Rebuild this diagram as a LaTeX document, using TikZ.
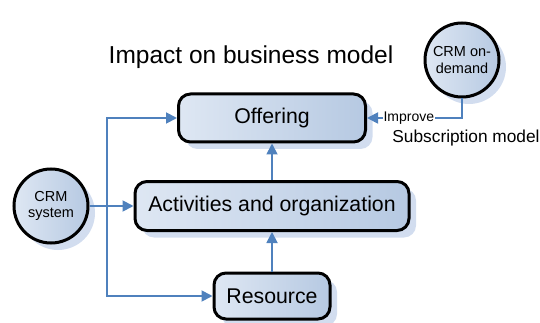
\documentclass[tikz,border=0pt]{standalone}
\usepackage{fontspec}
\setmainfont{Liberation Sans}
\usetikzlibrary{shadows,arrows.meta}

\definecolor{linkblue}{RGB}{79,129,189}
\definecolor{filllight}{RGB}{222,231,243}
\definecolor{filldark}{RGB}{182,201,226}
\definecolor{shadowblue}{RGB}{210,221,239}

\begin{document}
\begin{tikzpicture}[x=1pt,y=1pt,yscale=-1,
  boxed/.style={draw=black, line width=3pt, rounded corners=12pt,
    left color=filllight, right color=filldark,
    drop shadow={shadow xshift=7pt, shadow yshift=-7pt, fill=shadowblue, opacity=1},
    inner sep=0pt, font=\fontsize{21.3}{24}\selectfont},
  disc/.style={circle, draw=black, line width=3pt, minimum size=74pt,
    left color=filllight, right color=filldark,
    drop shadow={shadow xshift=7pt, shadow yshift=-7pt, fill=shadowblue, opacity=1},
    inner sep=0pt, align=center, font=\fontsize{14.5}{16.5}\selectfont},
  conn/.style={draw=linkblue, line width=1.8pt, -{Triangle[length=11pt,width=11pt]}}]

\useasboundingbox (0,0) rectangle (540,323);

% boxes
\node[boxed, minimum width=187pt, minimum height=48pt] (offer) at (272,118) {Offering};
\node[boxed, minimum width=274pt, minimum height=49pt] (act) at (272,206) {Activities and organization};
\node[boxed, minimum width=116pt, minimum height=46pt] (res) at (272,296) {Resource};

% circles
\node[disc] (sys) at (51,206) {CRM\\system};
\node[disc] (dem) at (462,60) {CRM on-\\demand};

% texts
\node[font=\fontsize{24.5}{28}\selectfont] (title) at (251,57) {Impact on business model};
\node[font=\fontsize{17.3}{19}\selectfont] (sub) at (466,138) {Subscription model};

\coordinate (trunk) at (107,206);

% connectors
\draw[conn] (sys.east) -- (act.west);
\draw[conn] (trunk) |- (offer.west);
\draw[conn] (trunk) |- (res.west);
\draw[conn] (res.north) -- (act.south);
\draw[conn] (act.north) -- (offer.south);
\draw[conn] (dem.south) |- node[pos=0.78, fill=white, inner sep=0.6pt,
  font=\fontsize{14}{15}\selectfont, text=black] {Improve} (offer.east);

\end{tikzpicture}
\end{document}
